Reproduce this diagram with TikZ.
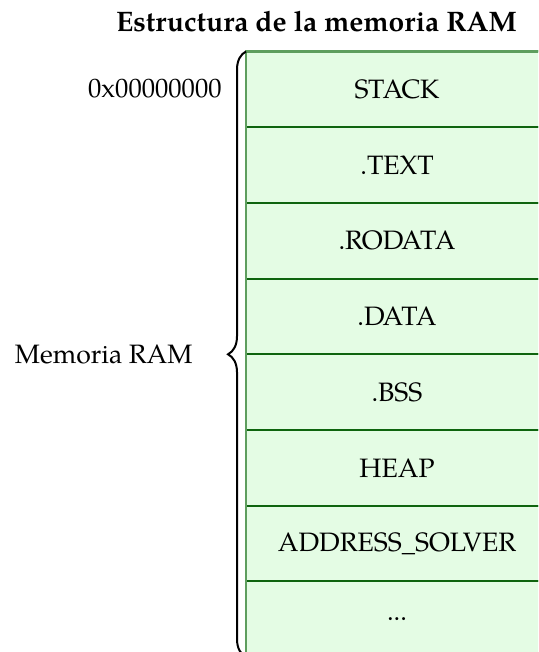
\documentclass[tikz,border=0pt]{standalone}
\usepackage{fontspec}
\setmainfont{texgyrepagella-regular.otf}[BoldFont=texgyrepagella-bold.otf]
\usetikzlibrary{decorations.pathreplacing}
\definecolor{cellfill}{HTML}{E4FCE4}
\definecolor{celledge}{HTML}{0E640E}
\definecolor{frameedge}{HTML}{5E9E5E}
\tikzset{
  % segment text is centred in the first 151pt; the cell runs on past the edge
  cell/.style={rectangle, fill=cellfill, draw=celledge, line width=1pt,
    minimum width=190pt, minimum height=37.85pt, inner sep=0pt, outer sep=0pt,
    anchor=north west, font=\fontsize{13.3}{16}\selectfont,
    execute at begin node={\hbox to 151pt\bgroup\hss},
    execute at end node={\hss\egroup\hspace*{39pt}}},
  lbl/.style={inner sep=0pt, font=\fontsize{13.3}{16}\selectfont},
  ttl/.style={inner sep=0pt, font=\fontsize{14.1}{17}\selectfont\bfseries},
  bracestyle/.style={decorate, decoration={brace, amplitude=9pt}, line width=1pt}
}
\begin{document}
\begin{tikzpicture}[x=0.5pt, y=-0.5pt]
\useasboundingbox (0,0) rectangle (538,652);
\clip (0,0) rectangle (538,652);

% title
\node[ttl, anchor=base] (title) at (316.5,32) {Estructura de la memoria RAM};

% memory segments, top to bottom
\node[cell] (c1) at (246,51.5) {STACK};
\node[cell] (c2) at (c1.south west) {.TEXT};
\node[cell] (c3) at (c2.south west) {.RODATA};
\node[cell] (c4) at (c3.south west) {.DATA};
\node[cell] (c5) at (c4.south west) {.BSS};
\node[cell] (c6) at (c5.south west) {HEAP};
\node[cell] (c7) at (c6.south west) {ADDRESS\_SOLVER};
\node[cell] (c8) at (c7.south west) {...};

% outer frame of the column
\draw[frameedge, line width=1.2pt] (c8.south west) -- (c1.north west) -- (c1.north east);

% brace spanning the whole memory
\draw[bracestyle] (c8.south west) -- (c1.north west);

% side labels
\node[lbl, anchor=base east] (addr) at (222,98) {0x00000000};
\node[lbl, anchor=base east] (ram) at (193,363) {Memoria RAM};
\end{tikzpicture}
\end{document}
